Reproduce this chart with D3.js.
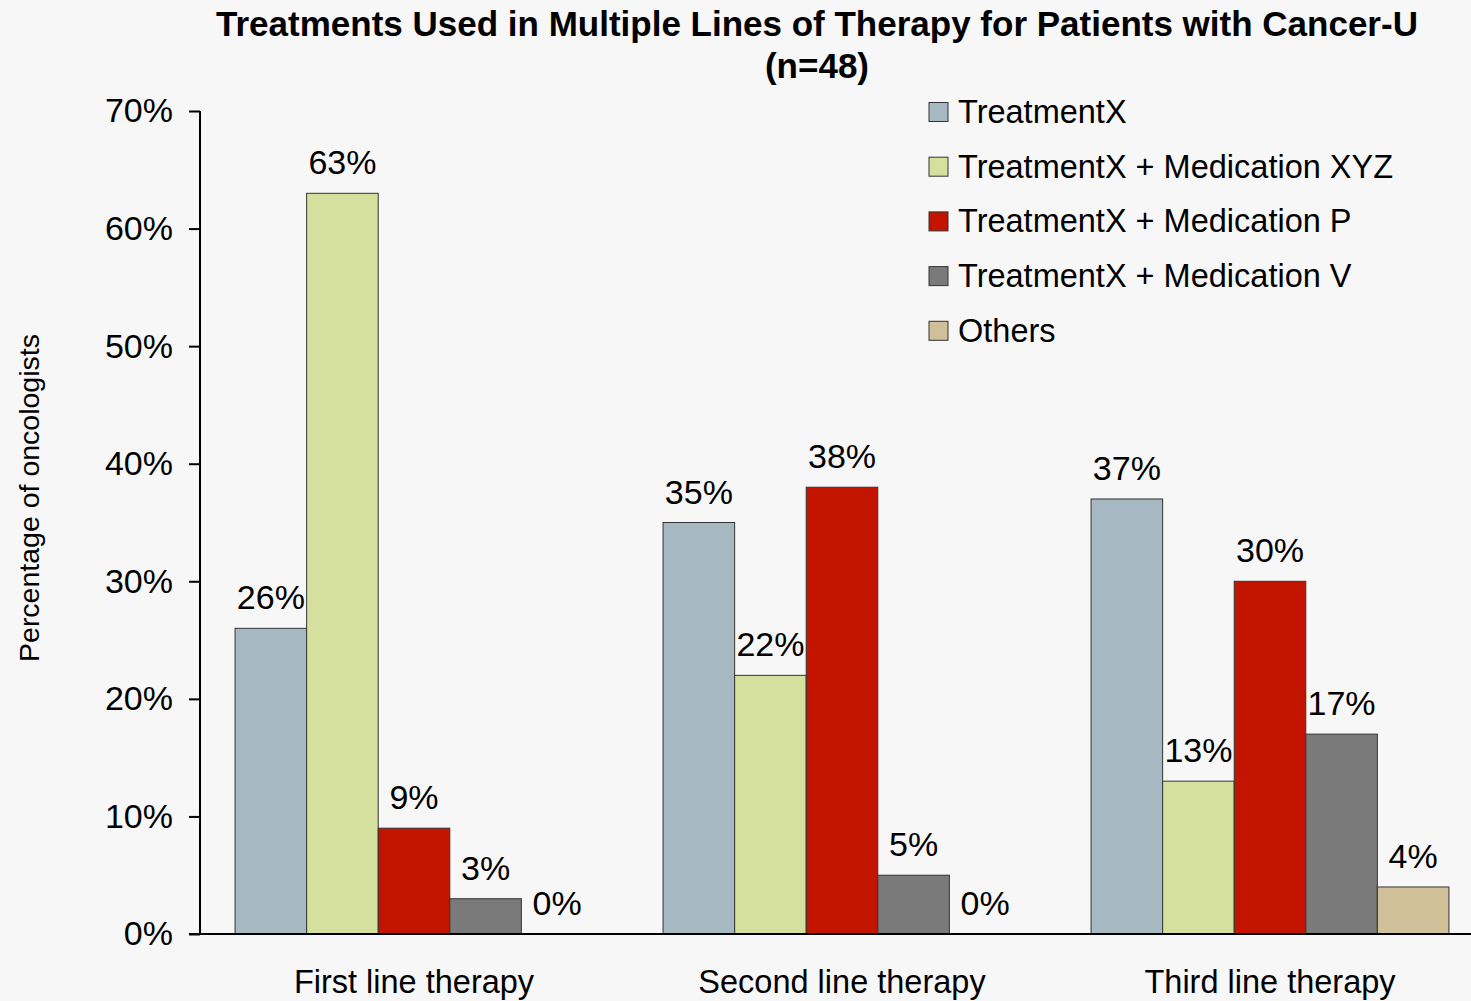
<!DOCTYPE html>
<meta charset="utf-8">
<style>
body { margin: 0; background: #f7f7f7; }
svg { font-family: "Liberation Sans", Arial, sans-serif; }
.bar { stroke: #333; stroke-width: 1px; }
.axis path, .axis line { stroke: #000; stroke-width: 2px; }
.axis text { fill: #000; }
</style>
<body>
<svg width="1471" height="1001"></svg>
<script src="https://d3js.org/d3.v7.min.js"></script>
<script>

// data
var categories = ["First line therapy", "Second line therapy", "Third line therapy"];
var seriesNames = ["TreatmentX", "TreatmentX + Medication XYZ", "TreatmentX + Medication P", "TreatmentX + Medication V", "Others"];
var treatmentX    = [26, 35, 37];
var medXYZ        = [63, 22, 13];
var medP          = [9, 38, 30];
var medV          = [3, 5, 17];
var others        = [0, 0, 4];
var yTicks = [0, 10, 20, 30, 40, 50, 60, 70];

var colors = ["#a6b8c2", "#d5e09f", "#c31400", "#7a7a7a", "#cfc09a"];
var seriesValues = [treatmentX, medXYZ, medP, medV, others];

var svg = d3.select("svg");

// scales
var x0 = d3.scaleBand().domain(categories).range([200, 1484]);
var x1 = d3.scaleBand().domain(seriesNames).range([0, x0.bandwidth()]).paddingOuter(0.49);
var y = d3.scaleLinear().domain([0, 70]).range([934, 111]);
var color = d3.scaleOrdinal().domain(seriesNames).range(colors);

// title
svg.append("text")
    .attr("x", 817).attr("y", 36)
    .attr("text-anchor", "middle")
    .style("font-weight", "bold").style("font-size", "35px")
    .text("Treatments Used in Multiple Lines of Therapy for Patients with Cancer-U");
svg.append("text")
    .attr("x", 817).attr("y", 78)
    .attr("text-anchor", "middle")
    .style("font-weight", "bold").style("font-size", "35px")
    .text("(n=48)");

// y axis label
svg.append("text")
    .attr("transform", "translate(39,498) rotate(-90)")
    .attr("text-anchor", "middle")
    .style("font-size", "28.5px")
    .text("Percentage of oncologists");

// bars
var rows = [];
categories.forEach(function(c, i) {
  seriesNames.forEach(function(s, j) {
    rows.push({cat: c, series: s, value: seriesValues[j][i]});
  });
});

var bars = svg.append("g").selectAll("g")
    .data(rows)
    .enter().append("g");

bars.filter(function(d) { return d.value > 0; })
  .append("rect")
    .attr("class", "bar")
    .attr("x", function(d) { return x0(d.cat) + x1(d.series); })
    .attr("y", function(d) { return y(d.value); })
    .attr("width", x1.bandwidth())
    .attr("height", function(d) { return y(0) - y(d.value); })
    .attr("fill", function(d) { return color(d.series); });

// value labels (the empty "Others" bars still get a 0% label)
bars.filter(function(d) { return d.value > 0 || d.series === "Others"; })
  .append("text")
    .attr("x", function(d) { return x0(d.cat) + x1(d.series) + x1.bandwidth() / 2; })
    .attr("y", function(d) { return y(d.value) - 19; })
    .attr("text-anchor", "middle")
    .style("font-size", "34px")
    .text(function(d) { return d.value + "%"; });

// y axis
var yAxis = svg.append("g")
    .attr("class", "axis")
    .attr("transform", "translate(200,0)")
    .call(d3.axisLeft(y).tickValues(yTicks).tickSize(11).tickPadding(16)
      .tickFormat(function(d) { return d + "%"; }));
yAxis.selectAll("text").style("font-size", "34px");
yAxis.select(".domain").attr("d", "M0," + y(70) + "V" + y(0));

// x axis
var xAxis = svg.append("g")
    .attr("class", "axis")
    .attr("transform", "translate(0," + y(0) + ")")
    .call(d3.axisBottom(x0).tickSize(0).tickPadding(36));
xAxis.selectAll("text").style("font-size", "32.5px");
xAxis.select(".domain").attr("d", "M189,0H1471");

// legend
var legend = svg.append("g").selectAll("g")
    .data(seriesNames)
    .enter().append("g")
    .attr("transform", function(d, i) { return "translate(929," + (112 + i * 54.7) + ")"; });

legend.append("rect")
    .attr("x", 0).attr("y", -9.5)
    .attr("width", 19).attr("height", 19)
    .attr("fill", function(d) { return color(d); })
    .attr("stroke", "#333").attr("stroke-width", 1);

legend.append("text")
    .attr("x", 29).attr("y", 11)
    .style("font-size", "32.5px")
    .text(function(d) { return d; });

</script>
</body>
